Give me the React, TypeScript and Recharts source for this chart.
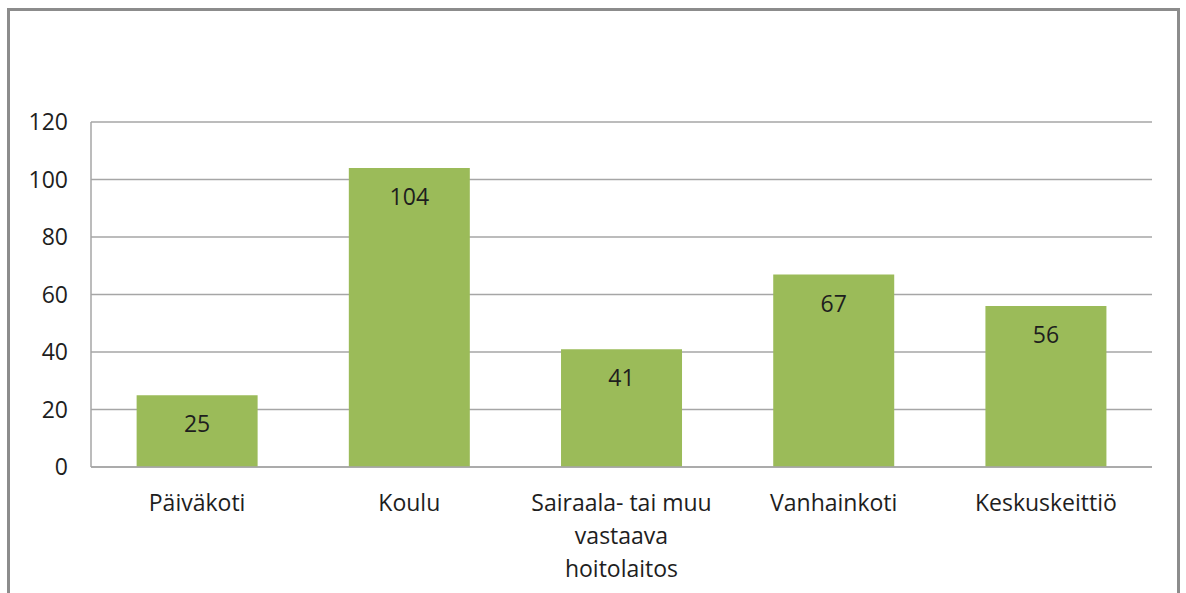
import React from "react";
import { BarChart, Bar, XAxis, YAxis, CartesianGrid, LabelList } from "recharts";

const categories = ["Päiväkoti", "Koulu", "Sairaala- tai muu vastaava hoitolaitos", "Vanhainkoti", "Keskuskeittiö"];
const values = [25, 104, 41, 67, 56];
const yTicks = [0, 20, 40, 60, 80, 100, 120];

const data = categories.map((name, i) => ({ name, value: values[i] }));

const FONT = "'Open Sans', 'Noto Sans', sans-serif";
const TEXT = "#1e1e1e";

function wrap(text: string, max: number): string[] {
  const words = text.split(" ");
  const lines: string[] = [];
  let cur = "";
  for (const w of words) {
    const next = cur ? cur + " " + w : w;
    if (next.length > max && cur) {
      lines.push(cur);
      cur = w;
    } else {
      cur = next;
    }
  }
  if (cur) lines.push(cur);
  return lines;
}

const XTick = (props: any) => {
  const { x, y, payload } = props;
  const lines = wrap(String(payload.value), 17);
  return (
    <text x={x} y={y} textAnchor="middle" fill={TEXT} fontSize={23} fontFamily={FONT}>
      {lines.map((l, i) => (
        <tspan key={i} x={x} dy={i === 0 ? 44 : 33}>
          {l}
        </tspan>
      ))}
    </text>
  );
};

export default function App() {
  return (
    <div style={{ position: "relative", width: 1186, height: 593, overflow: "hidden", background: "#fff" }}>
      <style>{`html,body{margin:0;padding:0;overflow:hidden;}`}</style>
      <div
        style={{
          position: "absolute",
          left: 7,
          top: 8,
          width: 1167,
          height: 600,
          borderTop: "3px solid #8c8c8c",
          borderLeft: "3px solid #8c8c8c",
          borderRight: "3px solid #8c8c8c",
        }}
      />
      <div style={{ position: "absolute", left: 0, top: 0 }}>
        <BarChart
          width={1186}
          height={593}
          data={data}
          margin={{ top: 122, right: 34, left: 0, bottom: 16 }}
          barCategoryGap="21.5%"
        >
          <CartesianGrid vertical={false} stroke="#a6a6a6" strokeWidth={1.5} />
          <XAxis
            dataKey="name"
            height={110}
            tickLine={false}
            tickSize={0}
            tickMargin={0}
            axisLine={{ stroke: "#a6a6a6", strokeWidth: 1.5 }}
            tick={<XTick />}
            interval={0}
          />
          <YAxis
            width={91}
            domain={[0, 120]}
            ticks={yTicks}
            tickLine={false}
            tickSize={0}
            tickMargin={23}
            axisLine={{ stroke: "#a6a6a6", strokeWidth: 1.5 }}
            tick={{ fill: TEXT, fontSize: 23, fontFamily: FONT }}
            interval={0}
          />
          <Bar dataKey="value" fill="#9bbb59" isAnimationActive={false}>
            <LabelList
              dataKey="value"
              position="insideTop"
              offset={21}
              fill={TEXT}
              fontSize={23}
              fontFamily={FONT}
            />
          </Bar>
        </BarChart>
      </div>
    </div>
  );
}
